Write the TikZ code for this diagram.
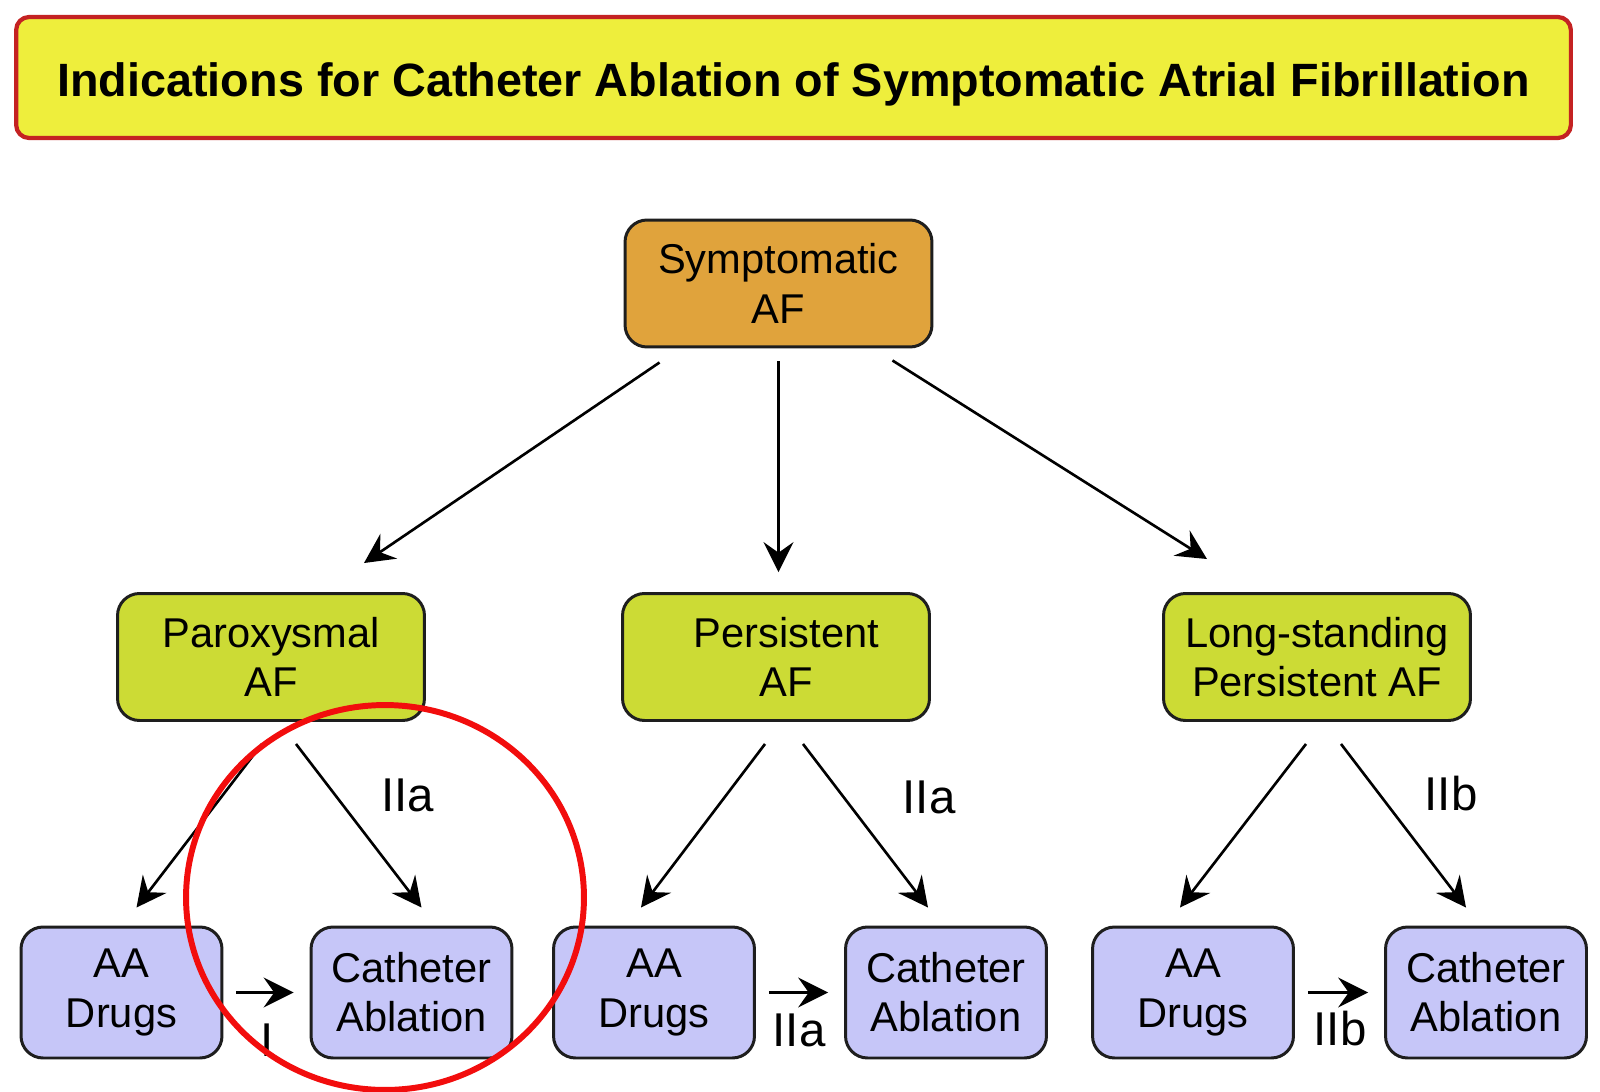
\documentclass[tikz,border=0pt]{standalone}
\usepackage{fontspec}
\setmainfont{Liberation Sans}
\usepackage{tikz}
\usetikzlibrary{arrows.meta,calc,positioning}
\usepackage{xcolor}
\definecolor{banner}{HTML}{EEEE3C}
\definecolor{bannerrim}{HTML}{C42222}
\definecolor{rootfill}{HTML}{E0A33C}
\definecolor{typefill}{HTML}{CCDB35}
\definecolor{optfill}{HTML}{C6C6F8}
\definecolor{rim}{HTML}{1E1E1E}
\definecolor{ringred}{HTML}{F20D0D}
\tikzset{titlebox/.style={draw=bannerrim,fill=banner,line width=2.4pt,rounded corners=0.26cm,minimum width=31.1cm,minimum height=2.42cm,text height=22pt,text depth=0pt,font=\fontsize{26.6}{32}\selectfont\bfseries},basebox/.style={draw=rim,line width=1.7pt,rounded corners=0.44cm,align=center,inner sep=0pt,font=\fontsize{23.7}{28}\selectfont},rootbox/.style={basebox,fill=rootfill,minimum width=6.14cm,minimum height=2.54cm},typebox/.style={basebox,fill=typefill,minimum width=6.14cm,minimum height=2.54cm},optbox/.style={basebox,fill=optfill,minimum width=4.02cm,minimum height=2.62cm},flow/.style={draw=black,line width=1.5pt,-{Stealth[length=17pt,width=17pt,inset=6pt]}},classlabel/.style={font=\fontsize{27}{30}\selectfont,inner sep=0pt}}

\begin{document}
\begin{tikzpicture}[x=0.02cm,y=-0.02cm]
\useasboundingbox (0,0) rectangle (1600,1092);
\fill[white] (0,0) rectangle (1600,1092);
\node[titlebox] (title) at (793.5,77.5) {Indications for Catheter Ablation of Symptomatic Atrial Fibrillation};
\node[rootbox] (sym) at (778.5,283.5) {Symptomatic\\AF};
\node[typebox] (par) at (271,657) {Paroxysmal\\AF};
\node[typebox] (pers) at (776,657) {\hspace*{12pt}Persistent\\\hspace*{12pt}AF};
\node[typebox] (lsp) at (1317,657) {Long-standing\\Persistent AF};
\foreach \n/\xa/\xc in {1/121.5/411.5,2/654/946,3/1193/1486}{
\node[optbox] (aa\n) at (\xa,992.5) {AA\\Drugs};
\node[optbox] (ca\n) at (\xc,992.5) {Catheter\\Ablation};
\draw[flow] ($(aa\n.east)+(13,0)$) -- ($(ca\n.west)+(-16,0)$);}
\draw[flow] ($(sym.south west)+(36,14)$) -- ($(par.north)+(93,-29)$);
\draw[flow] ($(sym.south)+(0,13)$) -- ($(sym.south |- pers.north)+(0,-20)$);
\draw[flow] ($(sym.south east)+(-41,12)$) -- ($(lsp.north)+(-110,-33)$);
\draw[flow] ($(par.south)+(-9,22)$) -- ($(aa1.north)+(15,-18)$);
\draw[flow] ($(par.south)+(25,22)$) -- ($(ca1.north)+(10,-18)$);
\draw[flow] ($(pers.south)+(-11,22)$) -- ($(aa2.north)+(-13,-18)$);
\draw[flow] ($(pers.south)+(27,22)$) -- ($(ca2.north)+(-18,-18)$);
\draw[flow] ($(lsp.south)+(-11,22)$) -- ($(aa3.north)+(-13,-18)$);
\draw[flow] ($(lsp.south)+(24,22)$) -- ($(ca3.north)+(-20,-18)$);
\node[classlabel] (k1) at (407.5,795) {IIa};
\node[classlabel] (k2) at (929,797) {IIa};
\node[classlabel] (k3) at (1451,794) {IIb};
\node[classlabel] (h1) at (267,1040) {I};
\node[classlabel] (h2) at (799,1030) {IIa};
\node[classlabel] (h3) at (1340,1029) {IIb};
\draw[ringred,line width=3.4pt] (385,897.5) ellipse [x radius=3.98cm,y radius=3.85cm];
\end{tikzpicture}
\end{document}
